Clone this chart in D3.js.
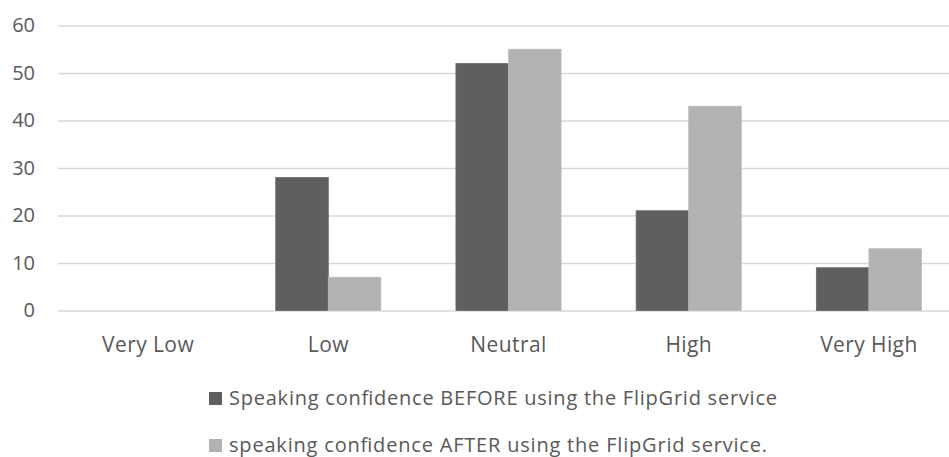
<!DOCTYPE html>
<html>
<head>
<meta charset="utf-8">
<script src="https://cdn.jsdelivr.net/npm/d3@7"></script>
<style>
  html, body { margin: 0; padding: 0; background: #fff; }
  svg { display: block; }
  text { font-family: "Open Sans", "Liberation Sans", sans-serif; fill: #595959; }
</style>
</head>
<body>
<svg id="chart" width="949" height="457"></svg>
<script>
const categories = ["Very Low", "Low", "Neutral", "High", "Very High"];
const seriesNames = [
  "Speaking confidence BEFORE using the FlipGrid service",
  "speaking confidence AFTER using the FlipGrid service."
];
const beforeValues = [0, 28, 52, 21, 9];
const afterValues = [0, 7, 55, 43, 13];
const yTicks = [0, 10, 20, 30, 40, 50, 60];
const colors = ["#5f5f5f", "#b2b2b2"];

const svg = d3.select("#chart");
const plot = { left: 58, right: 959, top: 25.5, bottom: 310.5 };

const y = d3.scaleLinear().domain([0, 60]).range([plot.bottom, plot.top]);
const x0 = d3.scaleBand().domain(categories).range([plot.left, plot.right])
  .paddingInner(0.4167).paddingOuter(0.2083);
const x1 = d3.scaleBand().domain([0, 1]).range([0, x0.bandwidth()]).padding(0);

// gridlines
const grid = svg.append("g").attr("class", "grid")
  .attr("transform", `translate(${plot.left},0)`)
  .call(d3.axisLeft(y).tickValues(yTicks).tickSize(-(plot.right - plot.left)).tickFormat(""));
grid.select(".domain").remove();
grid.selectAll("line").attr("stroke", "#d9d9d9").attr("stroke-width", 1.5);

// bars
const data = categories.map((c, i) => ({ cat: c, vals: [beforeValues[i], afterValues[i]] }));
const groups = svg.append("g").selectAll("g").data(data).join("g")
  .attr("transform", d => `translate(${x0(d.cat)},0)`);
groups.selectAll("rect").data(d => d.vals.map((v, k) => ({ v, k }))).join("rect")
  .filter(d => d.v > 0)
  .attr("x", d => x1(d.k))
  .attr("width", x1.bandwidth())
  .attr("y", d => y(d.v))
  .attr("height", d => y(0) - y(d.v))
  .attr("fill", d => colors[d.k])
  .attr("stroke", d => d.k === 0 ? "#6a6a6a" : "#bcbcbc")
  .attr("stroke-width", 0.8);

// y axis labels
const yAxis = svg.append("g")
  .attr("transform", `translate(35,0)`)
  .call(d3.axisLeft(y).tickValues(yTicks).tickSize(0).tickPadding(0));
yAxis.select(".domain").remove();
yAxis.selectAll("text")
  .style("font-size", "20px").style("font-family", "'Open Sans', sans-serif")
  .attr("fill", "#595959").attr("text-anchor", "end");

// x axis labels
const xAxis = svg.append("g")
  .attr("transform", `translate(0,${plot.bottom})`)
  .call(d3.axisBottom(x0).tickSize(0).tickPadding(27));
xAxis.select(".domain").remove();
xAxis.selectAll("text")
  .style("font-size", "21px").style("font-family", "'Open Sans', sans-serif")
  .style("letter-spacing", "0.4px")
  .attr("fill", "#595959");

// legend
const legendRows = [405, 452];
const legendWidths = [548, 538];
const legend = svg.append("g").selectAll("g").data(seriesNames).join("g")
  .attr("transform", (d, i) => `translate(209,${legendRows[i]})`);
legend.append("rect")
  .attr("x", 0).attr("y", -13).attr("width", 13).attr("height", 13)
  .attr("fill", (d, i) => colors[i]);
legend.append("text")
  .attr("x", 20).attr("y", 0)
  .style("font-size", "20px")
  .attr("textLength", (d, i) => legendWidths[i])
  .attr("lengthAdjust", "spacing")
  .text(d => d);
</script>
</body>
</html>
